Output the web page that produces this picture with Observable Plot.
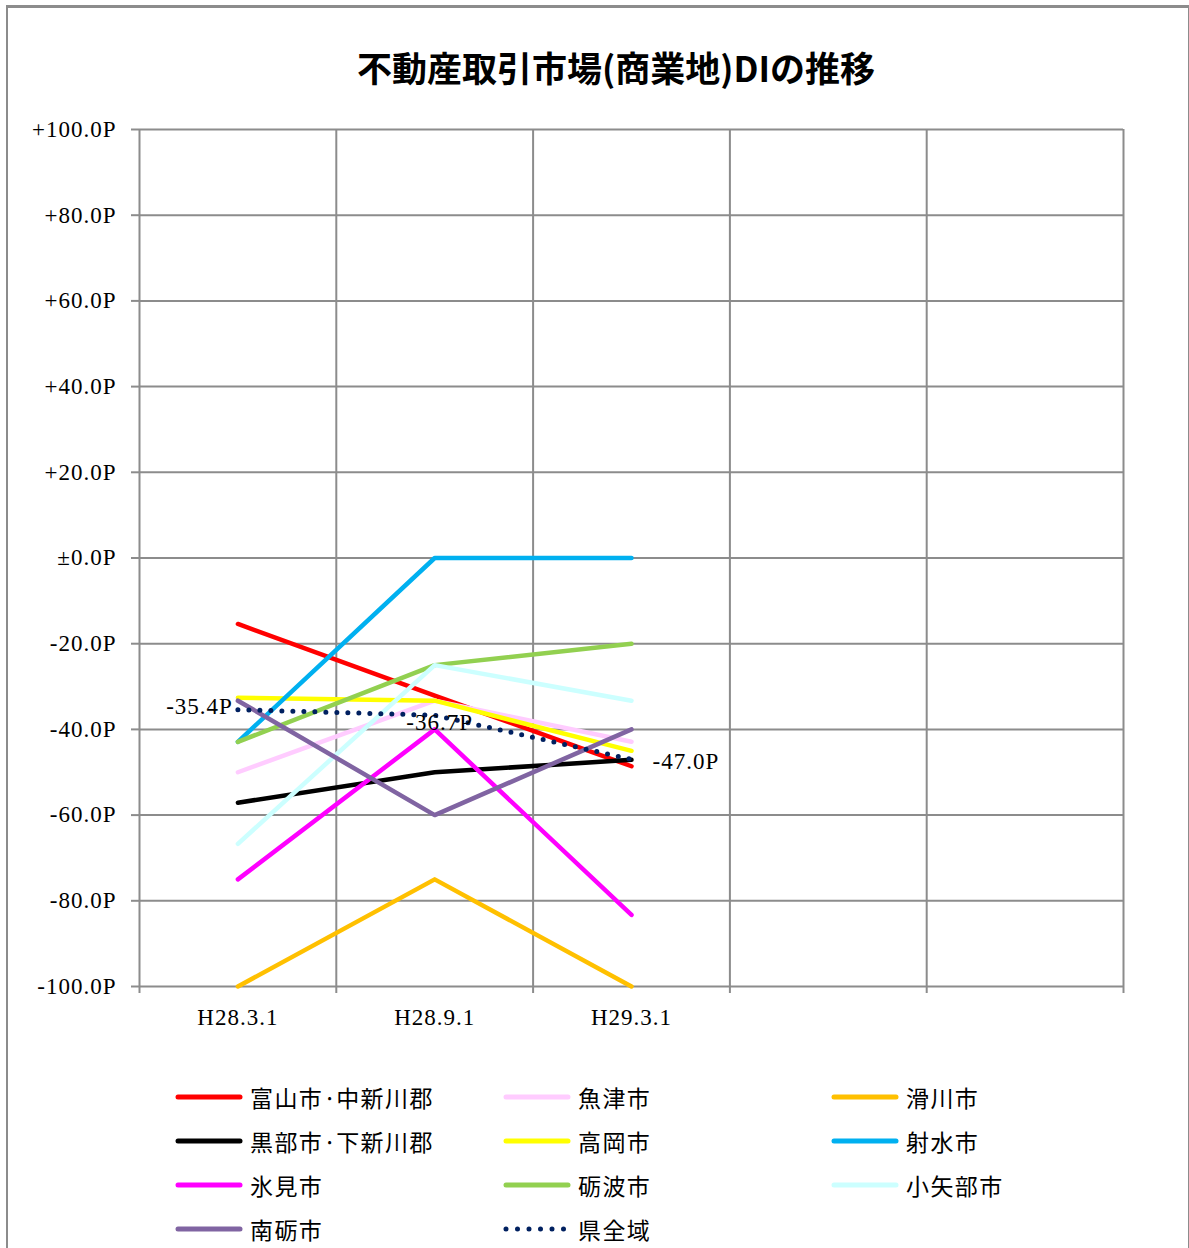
<!DOCTYPE html>
<html><head><meta charset="utf-8">
<script src="https://cdn.jsdelivr.net/npm/d3@7"></script>
<script src="https://cdn.jsdelivr.net/npm/@observablehq/plot@0.6"></script>
<style>
body{margin:0;background:#fff;width:1189px;height:1248px;overflow:hidden;position:relative;font-family:"Noto Sans CJK JP",sans-serif;}
#frame{position:absolute;left:6px;top:5px;width:1184px;height:1300px;border:2px solid #8c8c8c;border-top-width:3px;box-sizing:border-box;}
#title{position:absolute;top:44px;left:0;width:1232px;text-align:center;font-size:35px;font-weight:bold;line-height:46px;color:#000;}
#chart{position:absolute;left:0;top:100px;}
.lg{position:absolute;display:flex;align-items:center;font-size:23px;letter-spacing:1.4px;line-height:30px;color:#000;white-space:nowrap;}
.lg svg{margin-right:6px;}
.dot{display:inline-block;width:13px;text-align:center;letter-spacing:0;}
</style>
</head><body>
<div id="frame"></div>
<div id="title">不動産取引市場(商業地)DIの推移</div>
<div id="chart"></div>
<div id="legend"></div>
<script>
// ---- data ----
const categories = ["H28.3.1", "H28.9.1", "H29.3.1"];
const slotCount = 5;
const seriesNames = ["富山市·中新川郡", "魚津市", "滑川市", "黒部市·下新川郡", "高岡市", "射水市", "氷見市", "砺波市", "小矢部市", "南砺市", "県全域"];
const seriesColors = ["#FF0000", "#FFCCFF", "#FFC000", "#000000", "#FFFF00", "#00B0F0", "#FF00FF", "#92D050", "#CCFFFF", "#8064A2", "#002060"];
const toyama   = [-15.4, -32.1, -48.6];
const uozu     = [-50.0, -33.3, -42.9];
const namerikawa = [-100.0, -75.0, -100.0];
const kurobe   = [-57.1, -50.0, -47.1];
const takaoka  = [-32.6, -33.3, -45.0];
const imizu    = [-42.9, 0.0, 0.0];
const himi     = [-75.0, -40.0, -83.3];
const tonami   = [-42.9, -25.0, -20.0];
const oyabe    = [-66.7, -25.0, -33.3];
const nanto    = [-33.3, -60.0, -40.0];
const prefTotal = [-35.4, -36.7, -47.0];
const seriesValues = [toyama, uozu, namerikawa, kurobe, takaoka, imizu, himi, tonami, oyabe, nanto, prefTotal];
const yTicks = [-100, -80, -60, -40, -20, 0, 20, 40, 60, 80, 100];

// ---- build table ----
const rows = [];
seriesValues.forEach((vals, si) => vals.forEach((v, ci) => rows.push({series: seriesNames[si], x: ci + 0.5, cat: categories[ci], v})));
const totalName = seriesNames[seriesNames.length - 1];
const cityRows = rows.filter(r => r.series !== totalName);
const totalRows = rows.filter(r => r.series === totalName);
const fmtY = d => d > 0 ? `+${d.toFixed(1)}P` : d === 0 ? "±0.0P" : `${d.toFixed(1)}P`;
const fmtLabel = d => `${d.toFixed(1)}P`;
const grid = "#8c8c8c";

const chart = Plot.plot({
  width: 1189, height: 960,
  marginLeft: 139, marginRight: 66, marginTop: 29, marginBottom: 74,
  style: {fontFamily: "'Liberation Serif', serif", fontSize: "23px", letterSpacing: "1px", color: "#000", background: "transparent"},
  x: {type: "linear", domain: [0, slotCount]},
  y: {domain: [-100, 100]},
  color: {domain: seriesNames, range: seriesColors},
  marks: [
    Plot.ruleY(yTicks, {stroke: grid, strokeWidth: 2}),
    Plot.ruleX(d3.range(slotCount + 1), {stroke: grid, strokeWidth: 2}),
    Plot.axisY(yTicks, {tickSize: 8, tickPadding: 15, tickFormat: fmtY, stroke: grid, strokeWidth: 2, fill: "#000", fontSize: 23, label: null}),
    Plot.axisX(d3.range(slotCount + 1), {tickSize: 7, tickFormat: () => "", stroke: grid, strokeWidth: 2, label: null}),
    Plot.axisX(categories.map((c, i) => i + 0.5), {tickSize: 0, tickPadding: 22, tickFormat: d => categories[Math.floor(d)], fill: "#000", fontSize: 23, label: null}),
    Plot.line(cityRows, {x: "x", y: "v", z: "series", stroke: "series", strokeWidth: 4.5, strokeLinecap: "round", strokeLinejoin: "round"}),
    Plot.line(totalRows, {x: "x", y: "v", stroke: seriesColors[seriesColors.length - 1], strokeWidth: 5, strokeDasharray: "0 11", strokeLinecap: "round"}),
    Plot.text(totalRows.slice(0, 1), {x: "x", y: "v", text: d => fmtLabel(d.v), textAnchor: "end", dx: -5, dy: -3, fill: "#000", fontSize: 23}),
    Plot.text(totalRows.slice(1, 2), {x: "x", y: "v", text: d => fmtLabel(d.v), textAnchor: "middle", dx: 5, dy: 7, fill: "#000", fontSize: 23}),
    Plot.text(totalRows.slice(2, 3), {x: "x", y: "v", text: d => fmtLabel(d.v), textAnchor: "start", dx: 21, dy: 2, fill: "#000", fontSize: 23})
  ]
});
document.getElementById("chart").appendChild(chart);

// ---- legend ----
const legend = document.getElementById("legend");
seriesNames.forEach((name, i) => {
  const col = i % 3, row = Math.floor(i / 3);
  const item = document.createElement("div");
  item.className = "lg";
  item.style.left = (174 + col * 328) + "px";
  item.style.top = (1082 + row * 44) + "px";
  const isTotal = name === totalName;
  const label = name.split("·").join('<span class="dot">·</span>');
  item.innerHTML = `<svg width="70" height="10"><line x1="4" y1="5" x2="66" y2="5" stroke="${seriesColors[i]}" stroke-width="5" stroke-linecap="round" ${isTotal ? 'stroke-dasharray="0 11.5"' : ''}/></svg><span>${label}</span>`;
  legend.appendChild(item);
});
</script>
</body></html>
